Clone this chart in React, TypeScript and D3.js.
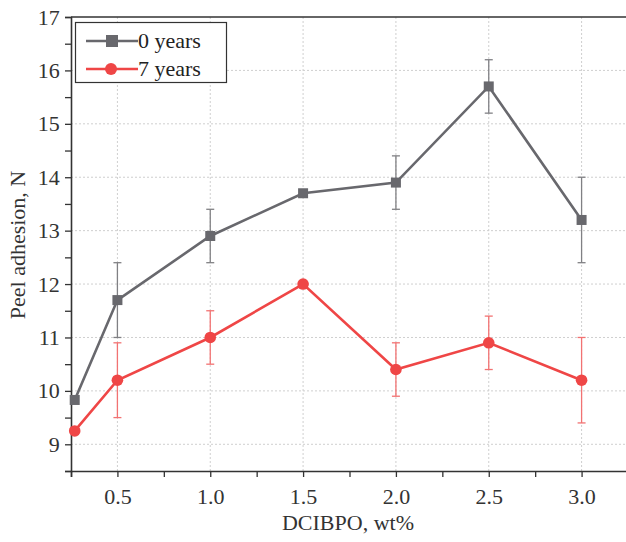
import React, { useEffect, useRef } from "react";
import * as d3 from "d3";

const doses = [0.27, 0.5, 1.0, 1.5, 2.0, 2.5, 3.0];
const years0 = [9.83, 11.7, 12.9, 13.7, 13.9, 15.7, 13.2];
const years0Err = [0, 0.7, 0.5, 0.05, 0.5, 0.5, 0.8];
const years7 = [9.25, 10.2, 11.0, 12.0, 10.4, 10.9, 10.2];
const years7Err = [0, 0.7, 0.5, 0.05, 0.5, 0.5, 0.8];
const xTicks = [0.5, 1.0, 1.5, 2.0, 2.5, 3.0];
const yTicks = [9, 10, 11, 12, 13, 14, 15, 16, 17];

const width = 626;
const height = 542;
const margin = { top: 17, right: -2, bottom: 71, left: 71 };
const font = "'Liberation Serif', 'DejaVu Serif', serif";

export default function App() {
  const ref = useRef<SVGSVGElement>(null);

  useEffect(() => {
    const svg = d3.select(ref.current);
    svg.selectAll("*").remove();

    const x = d3
      .scaleLinear()
      .domain([0.25, 3.25])
      .range([margin.left, width - margin.right]);
    const y = d3
      .scaleLinear()
      .domain([8.5, 17])
      .range([height - margin.bottom, margin.top]);

    // grid
    const grid = svg.append("g").attr("stroke", "#cfcfcf").attr("stroke-dasharray", "2,2").attr("stroke-width", 1);
    grid
      .selectAll("line.v")
      .data(xTicks)
      .enter()
      .append("line")
      .attr("x1", (d) => x(d))
      .attr("x2", (d) => x(d))
      .attr("y1", y(8.5))
      .attr("y2", y(17));
    grid
      .selectAll("line.h")
      .data(yTicks.slice(0, -1))
      .enter()
      .append("line")
      .attr("x1", x(0.25))
      .attr("x2", width)
      .attr("y1", (d) => y(d))
      .attr("y2", (d) => y(d));

    // axes
    const xAxis = d3
      .axisBottom(x)
      .tickValues(d3.range(0.25, 3.3, 0.25))
      .tickSize(6)
      .tickFormat((d) => (xTicks.includes(+d) ? d3.format(".1f")(+d) : ""));
    const gx = svg.append("g").attr("transform", `translate(0,${y(8.5)})`).call(xAxis);

    const yAxis = d3
      .axisLeft(y)
      .tickValues(d3.range(8.5, 17.01, 0.5))
      .tickSize(6)
      .tickFormat((d) => (Number.isInteger(+d) ? String(d) : ""));
    const gy = svg.append("g").attr("transform", `translate(${x(0.25)},0)`).call(yAxis);

    [gx, gy].forEach((g) => {
      g.select(".domain").attr("stroke", "#333").attr("stroke-width", 1.6);
      g.selectAll(".tick line").attr("stroke", "#333").attr("stroke-width", 1.3);
      g.selectAll(".tick text")
        .attr("font-family", font)
        .attr("font-size", 22)
        .attr("fill", "#333");
    });
    gx.selectAll(".tick text").attr("dy", "1.1em");
    gy.selectAll(".tick text").attr("dx", "-0.1em");

    // top frame line
    svg
      .append("line")
      .attr("x1", x(0.25))
      .attr("x2", width)
      .attr("y1", y(17))
      .attr("y2", y(17))
      .attr("stroke", "#333")
      .attr("stroke-width", 1.6);

    const series = [
      { vals: years0, errs: years0Err, color: "#68686d", errColor: "#808084", shape: "square" },
      { vals: years7, errs: years7Err, color: "#ef4646", errColor: "#f27272", shape: "circle" },
    ];

    series.forEach((s) => {
      const g = svg.append("g");
      const pts = doses.map((d, i) => ({ x: d, y: s.vals[i], e: s.errs[i] }));

      // error bars
      const eb = g
        .selectAll("g.err")
        .data(pts.filter((p) => p.e > 0))
        .enter()
        .append("g")
        .attr("stroke", s.errColor)
        .attr("stroke-width", 1.3);
      eb.append("line")
        .attr("x1", (p) => x(p.x))
        .attr("x2", (p) => x(p.x))
        .attr("y1", (p) => y(p.y - p.e))
        .attr("y2", (p) => y(p.y + p.e));
      [1, -1].forEach((sgn) => {
        eb.append("line")
          .attr("x1", (p) => x(p.x) - 4)
          .attr("x2", (p) => x(p.x) + 4)
          .attr("y1", (p) => y(p.y + sgn * p.e))
          .attr("y2", (p) => y(p.y + sgn * p.e));
      });

      const line = d3
        .line<{ x: number; y: number }>()
        .x((p) => x(p.x))
        .y((p) => y(p.y));
      g.append("path")
        .datum(pts)
        .attr("d", line)
        .attr("fill", "none")
        .attr("stroke", s.color)
        .attr("stroke-width", 2.6);

      if (s.shape === "square") {
        g.selectAll("rect")
          .data(pts)
          .enter()
          .append("rect")
          .attr("x", (p) => x(p.x) - 5)
          .attr("y", (p) => y(p.y) - 5)
          .attr("width", 10)
          .attr("height", 10)
          .attr("fill", s.color);
      } else {
        g.selectAll("circle")
          .data(pts)
          .enter()
          .append("circle")
          .attr("cx", (p) => x(p.x))
          .attr("cy", (p) => y(p.y))
          .attr("r", 5.8)
          .attr("fill", s.color);
      }
    });

    // legend
    const lg = svg.append("g");
    lg.append("rect")
      .attr("x", 75.5)
      .attr("y", 22.5)
      .attr("width", 151)
      .attr("height", 60)
      .attr("fill", "white")
      .attr("stroke", "#333")
      .attr("stroke-width", 1.2);
    const labels = ["0 years", "7 years"];
    labels.forEach((lab, i) => {
      const cy = 41 + i * 28;
      const s = series[i];
      lg.append("line")
        .attr("x1", 86)
        .attr("x2", 138)
        .attr("y1", cy)
        .attr("y2", cy)
        .attr("stroke", s.color)
        .attr("stroke-width", 2.6);
      if (s.shape === "square") {
        lg.append("rect").attr("x", 106).attr("y", cy - 6).attr("width", 12).attr("height", 12).attr("fill", s.color);
      } else {
        lg.append("circle").attr("cx", 111).attr("cy", cy).attr("r", 6).attr("fill", s.color);
      }
      lg.append("text")
        .attr("x", 138)
        .attr("y", cy + 6.5)
        .attr("font-family", font)
        .attr("font-size", 22)
        .attr("fill", "#222")
        .text(lab);
    });

    // axis titles
    svg
      .append("text")
      .attr("x", 348)
      .attr("y", 530)
      .attr("text-anchor", "middle")
      .attr("font-family", font)
      .attr("font-size", 22)
      .attr("fill", "#333")
      .text("DCIBPO, wt%");
    svg
      .append("text")
      .attr("transform", `translate(25,245) rotate(-90)`)
      .attr("text-anchor", "middle")
      .attr("font-family", font)
      .attr("font-size", 22)
      .attr("fill", "#333")
      .text("Peel adhesion, N");
  }, []);

  return (
    <svg
      ref={ref}
      width={width}
      height={height}
      style={{ position: "absolute", left: 0, top: 0, background: "white" }}
    />
  );
}
